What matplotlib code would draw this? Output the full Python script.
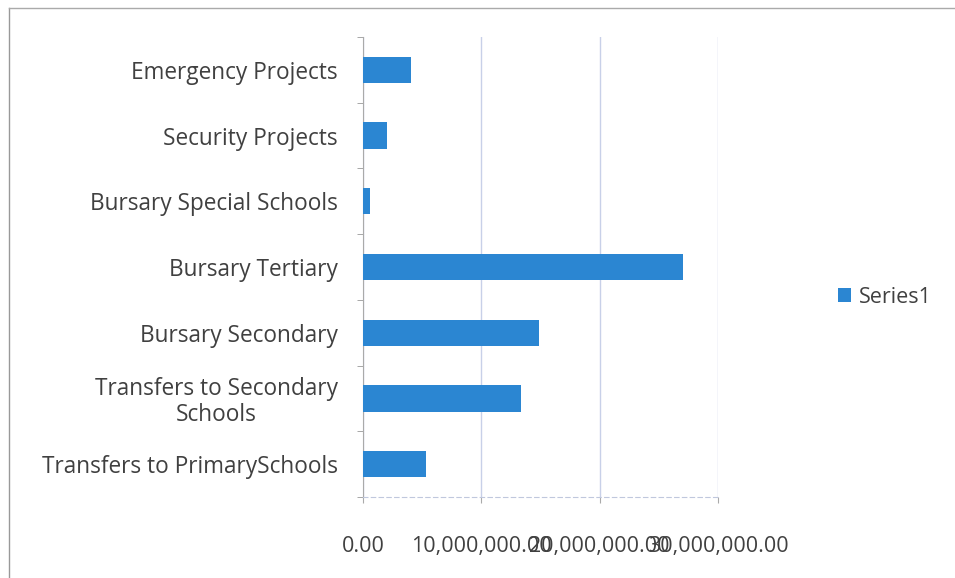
import matplotlib.pyplot as plt
from matplotlib.lines import Line2D
from matplotlib.ticker import FuncFormatter
import numpy as np

categories = ["Transfers to PrimarySchools", "Transfers to Secondary\nSchools",
              "Bursary Secondary", "Bursary Tertiary", "Bursary Special Schools",
              "Security Projects", "Emergency Projects"]
values = [5370000, 13360000, 14850000, 27000000, 560000, 2000000, 4050000]
xticks = [0, 10000000, 20000000, 30000000]

plt.rcParams['font.family'] = ['Open Sans', 'DejaVu Sans']
fig = plt.figure(figsize=(9.55, 5.78), dpi=100)
ax = fig.add_axes([0.380, 0.140, 0.372, 0.796])

y = np.arange(len(categories))
bars = ax.barh(y, values, height=0.4, color='#2b86d2', label='Series1', zorder=3)

ax.set_xlim(0, 30000000)
ax.set_ylim(-0.5, len(categories) - 0.5)
ax.set_xticks(xticks)
ax.xaxis.set_major_formatter(FuncFormatter(lambda v, p: f"{v:,.2f}"))
ax.set_yticks(y)
ax.set_yticklabels(categories, multialignment='center', linespacing=1.1)
ax.set_yticks(np.arange(-0.5, len(categories), 1), minor=True)

ax.tick_params(axis='y', which='major', length=0, pad=18, labelsize=16.3, labelcolor='#404040')
ax.tick_params(axis='y', which='minor', length=4, color='#999999', direction='out')
ax.tick_params(axis='x', length=4, color='#aaaaaa', pad=24, labelsize=15.5, labelcolor='#404040')

ax.grid(axis='x', color='#c8d0e8', linewidth=1, zorder=0)
for s in ['top', 'right']:
    ax.spines[s].set_visible(False)
ax.spines['left'].set_color('#aaaaaa')
ax.spines['bottom'].set_color('#c0c8dd')
ax.spines['bottom'].set_linestyle((0, (4, 3)))

leg = fig.legend(handles=[bars], labels=['Series1'], loc='center left',
                 bbox_to_anchor=(0.857, 0.486), frameon=False, fontsize=15.5,
                 handlelength=0.6, handleheight=0.6, handletextpad=0.4)
for t in leg.get_texts():
    t.set_color('#404040')

# chart border
fig.add_artist(Line2D([0.009, 0.009], [0.0, 0.986], transform=fig.transFigure, color='#999999', lw=1))
fig.add_artist(Line2D([0.009, 1.0], [0.986, 0.986], transform=fig.transFigure, color='#aaaaaa', lw=1))

fig.savefig('out.png', dpi=100)
